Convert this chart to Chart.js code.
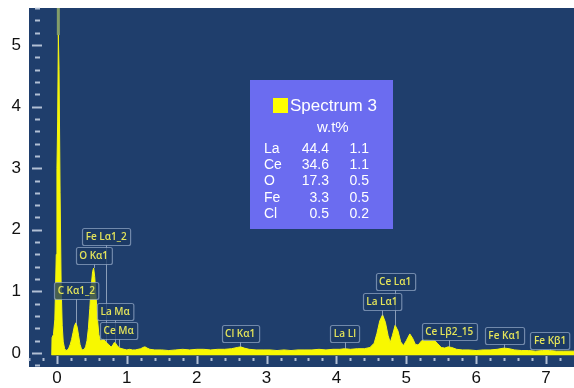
<!DOCTYPE html>
<html>
<head>
<meta charset="utf-8">
<script src="https://cdn.jsdelivr.net/npm/chart.js@4.4.1/dist/chart.umd.min.js"></script>
<style>
    body { margin: 0; background: #ffffff; }
    #wrap { width: 574px; height: 388px; }
</style>
</head>
<body>
<div id="wrap"><canvas id="spectrumChart" width="574" height="388"></canvas></div>
<script>
// Spectrum 3: energy (keV) against counts (cps/eV)
const energyKeV = [
    -0.075, -0.07, -0.05, -0.03, -0.01, 0.00, 0.01, 0.02, 0.03, 0.045, 0.06, 0.075, 0.09, 0.11, 0.13,
    0.15, 0.17, 0.19, 0.21, 0.23, 0.25, 0.27, 0.29, 0.31, 0.33, 0.35, 0.37, 0.39,
    0.41, 0.43, 0.45, 0.47, 0.49, 0.51, 0.525, 0.54, 0.56, 0.58, 0.60,
    0.62, 0.64, 0.66, 0.68, 0.70, 0.72, 0.74, 0.76, 0.78, 0.80, 0.82, 0.84, 0.86, 0.88, 0.90, 0.93, 0.96,
    1.00, 1.04, 1.08, 1.12, 1.16, 1.20, 1.23, 1.26, 1.29, 1.33, 1.40, 1.50, 1.60, 1.70, 1.80, 1.90,
    2.00, 2.10, 2.20, 2.30, 2.40, 2.50, 2.58, 2.63, 2.68, 2.75, 2.85, 2.95,
    3.05, 3.15, 3.25, 3.35, 3.45, 3.55, 3.65, 3.75, 3.85, 3.95,
    4.05, 4.12, 4.20, 4.30, 4.40, 4.48, 4.54, 4.58, 4.62, 4.66, 4.70, 4.74, 4.77, 4.80, 4.84, 4.88, 4.92, 4.96,
    5.00, 5.05, 5.09, 5.13, 5.17, 5.22, 5.28, 5.34, 5.40, 5.45, 5.50, 5.55, 5.60, 5.65, 5.72, 5.80, 5.90,
    6.00, 6.10, 6.20, 6.30, 6.40, 6.47, 6.55, 6.65, 6.75, 6.85, 6.95,
    7.05, 7.15, 7.25, 7.40
];
const counts = [
    -0.035, 0.25, 0.30, 0.55, 1.6, 3.0, 3.75, 5.16, 4.6, 2.6, 1.1, 0.45, 0.18, 0.07, 0.04,
    0.05, 0.08, 0.14, 0.22, 0.33, 0.44, 0.49, 0.42, 0.28, 0.14, 0.07, 0.05, 0.06,
    0.10, 0.20, 0.40, 0.72, 1.08, 1.32, 1.38, 1.24, 0.92, 0.55, 0.30,
    0.20, 0.21, 0.23, 0.21, 0.18, 0.16, 0.14, 0.11, 0.10, 0.13, 0.17, 0.16, 0.12, 0.10, 0.08, 0.07, 0.06,
    0.05, 0.06, 0.05, 0.05, 0.06, 0.07, 0.09, 0.10, 0.08, 0.06, 0.05, 0.05, 0.04, 0.05, 0.06, 0.05,
    0.06, 0.06, 0.05, 0.06, 0.06, 0.07, 0.09, 0.10, 0.08, 0.06, 0.05, 0.05,
    0.05, 0.04, 0.05, 0.04, 0.05, 0.05, 0.05, 0.06, 0.05, 0.06,
    0.06, 0.07, 0.06, 0.07, 0.07, 0.09, 0.16, 0.32, 0.52, 0.62, 0.50, 0.28, 0.17, 0.28, 0.45, 0.36, 0.18, 0.12,
    0.20, 0.31, 0.24, 0.14, 0.13, 0.20, 0.22, 0.21, 0.21, 0.15, 0.09, 0.08, 0.10, 0.09, 0.06, 0.05, 0.05,
    0.04, 0.05, 0.05, 0.06, 0.08, 0.07, 0.05, 0.04, 0.04, 0.03, 0.04,
    0.04, 0.03, 0.03, 0.03
];

// Identified lines
const peakNames = ['C Kα1_2', 'O Kα1', 'Fe Lα1_2', 'La Mα', 'Ce Mα', 'Cl Kα1', 'La Ll',
                   'La Lα1', 'Ce Lα1', 'Ce Lβ2_15', 'Fe Kα1', 'Fe Kβ1'];
const peakEnergies = [0.277, 0.525, 0.705, 0.833, 0.883, 2.622, 4.121,
                      4.651, 4.840, 5.613, 6.404, 7.058];

// Quantification table
const elements = ['La', 'Ce', 'O', 'Fe', 'Cl'];
const wtPercent = [44.4, 34.6, 17.3, 3.3, 0.5];
const wtSigma = [1.1, 1.1, 0.5, 0.5, 0.2];

// Axis ranges and tick labels
const xRange = [-0.4, 7.4];
const yRange = [-0.227, 5.6];
const xTickLabels = [0, 1, 2, 3, 4, 5, 6, 7];
const yTickLabels = [0, 1, 2, 3, 4, 5];

const spectrumPoints = energyKeV.map((e, i) => ({ x: e, y: counts[i] }));

// height of each label box top (in cps/eV) above its line
const labelTops = [1.153, 1.72, 2.03, 0.81, 0.50, 0.455, 0.455, 0.974, 1.30, 0.487, 0.422, 0.341];

function countsAt(e) {
    for (let i = 1; i < energyKeV.length; i++) {
        if (energyKeV[i] >= e) {
            const t = (e - energyKeV[i - 1]) / (energyKeV[i] - energyKeV[i - 1]);
            return counts[i - 1] + t * (counts[i] - counts[i - 1]);
        }
    }
    return counts[counts.length - 1];
}

function isWhole(v) {
    return Math.abs(v - Math.round(v)) < 1e-6;
}

// navy plot background
const plotBackground = {
    id: 'plotBackground',
    beforeDraw(chart) {
        const { ctx, chartArea: a } = chart;
        ctx.save();
        ctx.fillStyle = '#1f3e6c';
        ctx.fillRect(a.left, a.top, a.right - a.left, a.bottom - a.top);
        ctx.restore();
    }
};

// short tick dashes on the inside of the plot
const innerTicks = {
    id: 'innerTicks',
    afterDraw(chart) {
        const { ctx, scales } = chart;
        const a = chart.chartArea;
        ctx.save();
        ctx.strokeStyle = 'rgba(205,215,230,0.85)';
        ctx.lineWidth = 2;
        for (let k = -1; k <= 28; k++) {
            const v = k * 0.2;
            const y = Math.round(scales.y.getPixelForValue(v)) + 0.5;
            if (y < a.top || y > a.bottom) continue;
            const major = isWhole(v);
            ctx.beginPath();
            ctx.moveTo(a.left + (major ? 3 : 6), y);
            ctx.lineTo(a.left + (major ? 13 : 11), y);
            ctx.stroke();
        }
        for (let k = -2; k <= 37; k++) {
            const v = k * 0.2;
            const x = Math.round(scales.x.getPixelForValue(v)) + 0.5;
            if (x < a.left || x > a.right) continue;
            const major = isWhole(v);
            ctx.beginPath();
            ctx.moveTo(x, a.bottom - (major ? 11 : 9));
            ctx.lineTo(x, a.bottom - (major ? 3 : 6));
            ctx.stroke();
        }
        ctx.restore();
    }
};

// boxed line labels with leader lines to the peaks
const peakLabels = {
    id: 'peakLabels',
    afterDatasetsDraw(chart) {
        const { ctx, scales } = chart;
        const a = chart.chartArea;
        ctx.save();
        ctx.beginPath();
        ctx.rect(a.left, a.top, a.right - a.left, a.bottom - a.top);
        ctx.clip();
        ctx.font = '600 10px "Open Sans"';
        const boxes = peakNames.map((name, i) => {
            const x = scales.x.getPixelForValue(peakEnergies[i]);
            const top = scales.y.getPixelForValue(labelTops[i]);
            const w = ctx.measureText(name).width + 7;
            return { name, x, top, w, h: 17, peakY: scales.y.getPixelForValue(countsAt(peakEnergies[i])) };
        });
        ctx.strokeStyle = 'rgba(175,190,210,0.75)';
        ctx.lineWidth = 1;
        boxes.forEach(b => {
            ctx.beginPath();
            ctx.moveTo(Math.round(b.x) + 0.5, b.top + b.h);
            ctx.lineTo(Math.round(b.x) + 0.5, b.peakY);
            ctx.stroke();
        });
        boxes.forEach(b => {
            const left = Math.round(b.x - b.w / 2) + 0.5;
            const top = Math.round(b.top) + 0.5;
            ctx.beginPath();
            ctx.roundRect(left, top, b.w, b.h, 2);
            ctx.fillStyle = 'rgba(28,58,100,0.8)';
            ctx.fill();
            ctx.strokeStyle = 'rgba(150,170,200,0.7)';
            ctx.lineWidth = 1.2;
            ctx.stroke();
            ctx.fillStyle = '#e4e45a';
            ctx.textAlign = 'center';
            ctx.textBaseline = 'middle';
            ctx.fillText(b.name, b.x, top + b.h / 2 + 0.5);
        });
        ctx.restore();
    }
};

// legend with quantification results
const resultsBox = {
    id: 'resultsBox',
    afterDraw(chart) {
        const ctx = chart.ctx;
        ctx.save();
        ctx.fillStyle = '#6b6cf0';
        ctx.fillRect(250, 80, 143, 149);
        ctx.fillStyle = '#ffff00';
        ctx.fillRect(273, 98, 15, 15);
        ctx.fillStyle = '#ffffff';
        ctx.textBaseline = 'middle';
        ctx.textAlign = 'left';
        ctx.font = '17px "Liberation Sans"';
        ctx.fillText('Spectrum 3', 290, 106);
        ctx.font = '15px "Liberation Sans"';
        ctx.fillText('w.t%', 317, 128);
        ctx.font = '14px "Liberation Sans"';
        elements.forEach((el, i) => {
            const y = 149 + i * 16.3;
            ctx.textAlign = 'left';
            ctx.fillText(el, 264, y);
            ctx.textAlign = 'right';
            ctx.fillText(wtPercent[i].toFixed(1), 329, y);
            ctx.fillText(wtSigma[i].toFixed(1), 369, y);
        });
        ctx.restore();
    }
};

// keep the plot area edges where the layout padding puts them
function trimScale(scale, size) {
    if (scale.isHorizontal()) {
        scale.height = size;
    } else {
        scale.width = size;
    }
    scale.paddingTop = 0;
    scale.paddingBottom = 0;
    scale.paddingLeft = 0;
    scale.paddingRight = 0;
}

const ctx = document.getElementById('spectrumChart').getContext('2d');
new Chart(ctx, {
    type: 'line',
    data: {
        datasets: [
            {
                label: 'Spectrum 3',
                data: spectrumPoints,
                borderColor: '#f6f610',
                backgroundColor: '#f8f800',
                borderWidth: 1,
                pointRadius: 0,
                tension: 0,
                fill: { value: -0.035 }
            },
            {
                // zero-energy peak running off the top of the scale
                label: 'Noise peak',
                data: [{ x: 0.02, y: 5.16 }, { x: 0.02, y: 6.5 }],
                borderColor: 'rgba(150,175,105,0.85)',
                borderWidth: 3,
                pointRadius: 0,
                fill: false
            }
        ]
    },
    options: {
        responsive: false,
        animation: false,
        layout: { padding: { top: 8, right: 0, left: 0, bottom: 0 } },
        plugins: {
            legend: { display: false },
            tooltip: { enabled: false }
        },
        scales: {
            x: {
                type: 'linear',
                min: xRange[0],
                max: xRange[1],
                grid: { display: false, drawTicks: false, tickLength: 0 },
                border: { display: false },
                afterBuildTicks: (scale) => {
                    scale.ticks = xTickLabels.map(v => ({ value: v }));
                },
                afterFit: (scale) => trimScale(scale, 21),
                ticks: {
                    autoSkip: false,
                    maxRotation: 0,
                    padding: 1,
                    color: '#111111',
                    font: { family: '"Liberation Sans"', size: 17 },
                    callback: (v) => isWhole(v) ? Math.round(v) : ''
                }
            },
            y: {
                type: 'linear',
                min: yRange[0],
                max: yRange[1],
                grid: { display: false, drawTicks: false, tickLength: 0 },
                border: { display: false },
                afterBuildTicks: (scale) => {
                    scale.ticks = yTickLabels.map(v => ({ value: v }));
                },
                afterFit: (scale) => trimScale(scale, 29),
                ticks: {
                    autoSkip: false,
                    padding: 8,
                    color: '#111111',
                    font: { family: '"Liberation Sans"', size: 17 },
                    callback: (v) => isWhole(v) ? Math.round(v) : ''
                }
            }
        }
    },
    plugins: [plotBackground, innerTicks, peakLabels, resultsBox]
});
</script>
</body>
</html>
